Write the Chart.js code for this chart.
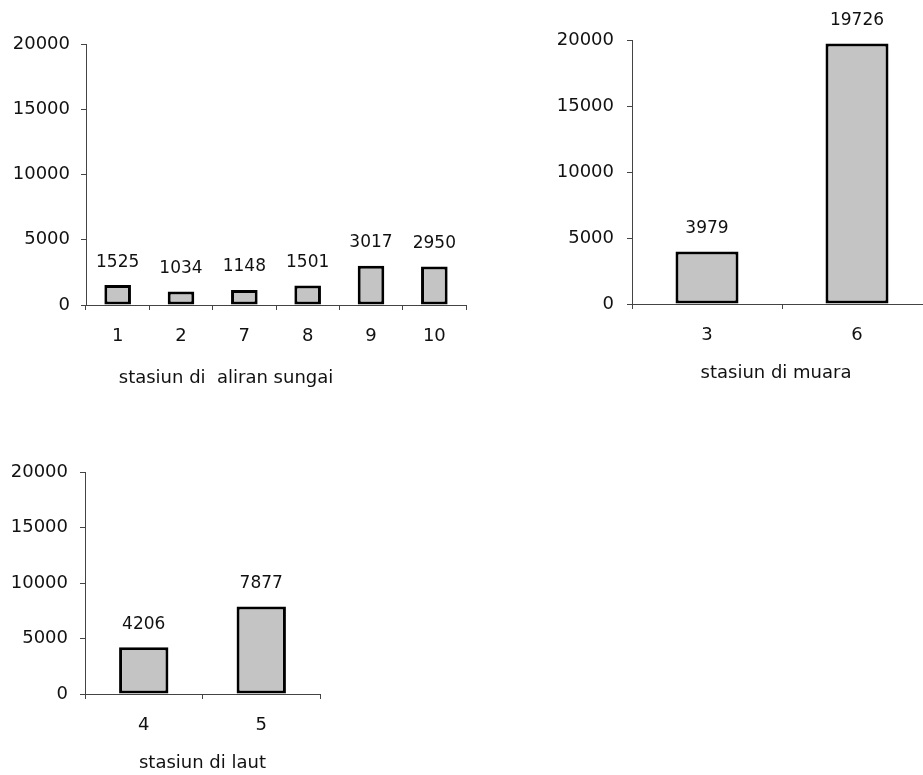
<!DOCTYPE html>
<html>
<head>
<meta charset="utf-8">
<script src="https://cdn.jsdelivr.net/npm/chart.js@4/dist/chart.umd.min.js"></script>
<style>
  html, body { margin: 0; padding: 0; background: #fff; overflow: hidden; }
  body { width: 923px; height: 775px; position: relative; }
  canvas { position: absolute; }
</style>
</head>
<body>
<canvas id="sungai" width="480" height="400" style="left:0;top:0"></canvas>
<canvas id="muara" width="392" height="400" style="left:540px;top:0"></canvas>
<canvas id="laut" width="340" height="355" style="left:0;top:420px"></canvas>
<script>
// data
const sungaiLabels = ['1', '2', '7', '8', '9', '10'];
const sungaiValues = [1525, 1034, 1148, 1501, 3017, 2950];
const muaraLabels = ['3', '6'];
const muaraValues = [3979, 19726];
const lautLabels = ['4', '5'];
const lautValues = [4206, 7877];
const yMin = 0, yMax = 20000, yStep = 5000;

const FONT = 'DejaVu Sans';
const INK = '#111';
const AXIS = '#444';

// value above each bar
const valueLabels = {
    id: 'valueLabels',
    afterDatasetsDraw(chart, args, opts){
        const ctx = chart.ctx;
        const values = chart.data.datasets[0].data;
        ctx.save();
        ctx.font = `17px "${FONT}"`;
        ctx.fillStyle = INK;
        ctx.textAlign = 'center';
        ctx.textBaseline = 'middle';
        chart.getDatasetMeta(0).data.forEach((bar, i) => {
            ctx.fillText(values[i], bar.x, bar.y - opts.gap);
        });
        ctx.restore();
    }
};

// axis caption under the category labels
const caption = {
    id: 'caption',
    afterDraw(chart, args, opts){
        const ctx = chart.ctx;
        const a = chart.chartArea;
        ctx.save();
        ctx.font = `18px "${FONT}"`;
        ctx.fillStyle = INK;
        ctx.textAlign = 'center';
        ctx.textBaseline = 'middle';
        ctx.fillText(opts.text, (a.left + a.right) / 2 + opts.dx, a.bottom + opts.dy);
        ctx.restore();
    }
};

const makeChart = (id, labels, values, c) => new Chart(document.getElementById(id), {
    type: 'bar',
    data: {
        labels,
        datasets: [{
            data: values,
            backgroundColor: '#c4c4c4',
            borderColor: '#000',
            borderWidth: 3,
            borderSkipped: false,
            barPercentage: 0.42,
            categoryPercentage: 1
        }]
    },
    plugins: [valueLabels, caption],
    options: {
        responsive: false,
        animation: false,
        layout: { padding: { top: c.top, right: c.right, bottom: 0, left: 0 } },
        plugins: {
            legend: { display: false },
            tooltip: { enabled: false },
            valueLabels: { gap: 23 },
            caption: { text: c.caption, dx: c.dx, dy: c.dy }
        },
        scales: {
            x: {
                grid: { offset: true, drawOnChartArea: false, drawTicks: true, tickLength: 5, color: AXIS },
                border: { display: true, color: AXIS, width: 1 },
                ticks: { color: INK, font: { family: FONT, size: 18 }, padding: 16, maxRotation: 0 },
                afterFit: s => { s.height = c.xHeight; }
            },
            y: {
                min: yMin, max: yMax,
                grid: { drawOnChartArea: false, drawTicks: true, tickLength: 5, color: AXIS },
                border: { display: true, color: AXIS, width: 1 },
                ticks: {
                    stepSize: yStep, color: INK, font: { family: FONT, size: 18 }, padding: c.yPad,
                    callback: v => String(v)
                },
                afterFit: s => { s.width = c.yWidth; }
            }
        }
    }
});

makeChart('sungai', sungaiLabels, sungaiValues,
    { top: 44, right: 14, xHeight: 95, yWidth: 86, yPad: 11, caption: 'stasiun di  aliran sungai', dx: -50, dy: 73 });
makeChart('muara', muaraLabels, muaraValues,
    { top: 40, right: 0, xHeight: 96, yWidth: 92, yPad: 13, caption: 'stasiun di muara', dx: -6, dy: 69 });
makeChart('laut', lautLabels, lautValues,
    { top: 52, right: 20, xHeight: 81, yWidth: 85, yPad: 12, caption: 'stasiun di laut', dx: 0, dy: 69 });
</script>
</body>
</html>
